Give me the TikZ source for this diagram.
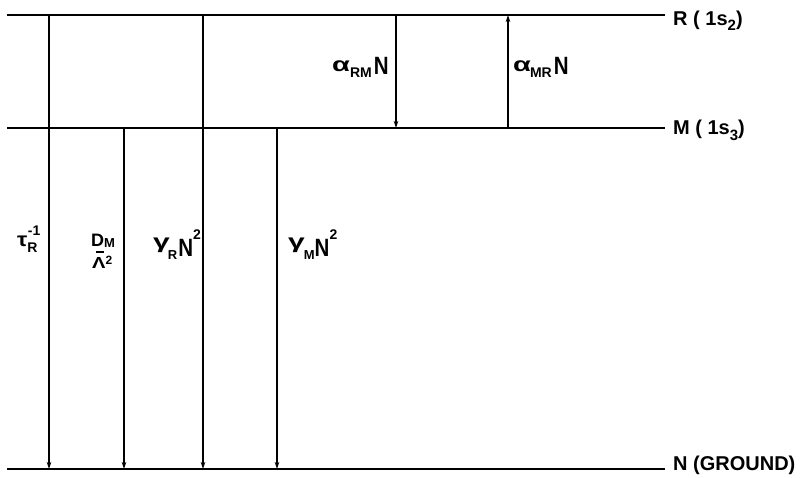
\documentclass[tikz,border=0pt]{standalone}
\usepackage{graphicx}
\usepackage{fontspec}
\setmainfont{Liberation Sans}
\newfontfamily\lett{Liberation Sans}[FakeStretch=0.82]
\usetikzlibrary{arrows.meta}
\newcommand{\fs}[1]{\fontsize{#1}{#1}\selectfont}
% greek letter: raise, xscale, size, glyph
\newcommand{\gk}[4]{\raisebox{#1pt}{\scalebox{#2}[1]{\rmfamily\bfseries\fs{#3}#4}}}
% lowered / raised small text: shift, size, text
\newcommand{\dn}[3]{\raisebox{-#1pt}{\rmfamily\bfseries\fs{#2}#3}}
\newcommand{\up}[3]{\raisebox{#1pt}{\rmfamily\bfseries\fs{#2}#3}}
\tikzset{
  level/.style={line width=1.8pt},
  trans/.style={line width=1.2pt,-{Stealth[length=7pt,width=4.5pt]}},
  lab/.style={font=\lett\bfseries\fs{25}, inner sep=0pt, anchor=base west},
  lvl/.style={font=\bfseries\fs{20}, inner sep=0pt, anchor=base west},
}
\begin{document}
\begin{tikzpicture}[x=1pt,y=-1pt]
\useasboundingbox (0,0) rectangle (807,478);
% levels
\coordinate (R0) at (7,15);   \coordinate (R1) at (665,15);
\coordinate (M0) at (7,128);  \coordinate (M1) at (665,128);
\coordinate (N0) at (7,469);  \coordinate (N1) at (665,469);
\draw[level] (R0) -- (R1);
\draw[level] (M0) -- (M1);
\draw[level] (N0) -- (N1);
\node[lvl] (Rl) at (673,26) {R ( 1s\dn{5}{15}{2})};
\node[lvl] (Ml) at (673,135) {M ( 1s\dn{6}{15}{3})};
\node[lvl] (Nl) at (673,471) {N (GROUND)};
% transition endpoints
\coordinate (a1) at (49,15);  \coordinate (b1) at (49,469);
\coordinate (a2) at (124,128); \coordinate (b2) at (124,469);
\coordinate (a3) at (203,15); \coordinate (b3) at (203,469);
\coordinate (a4) at (277,128); \coordinate (b4) at (277,469);
\coordinate (a5) at (396,15); \coordinate (b5) at (396,128);
\coordinate (a6) at (508,128); \coordinate (b6) at (508,15);
\draw[trans] (a1) -- (b1);
\draw[trans] (a2) -- (b2);
\draw[trans] (a3) -- (b3);
\draw[trans] (a4) -- (b4);
\draw[trans] (a5) -- (b5);
\draw[trans] (a6) -- (b6);
% labels
\node[lab] (t1) at (17,247) {\gk{0}{1.15}{20}{τ}\makebox[0pt][l]{\hspace{0.5pt}\up{11}{14}{-1}}\dn{6}{14}{R}};
\node[lab] (t2a) at (91,247) {{\rmfamily\bfseries\fs{18}D}\dn{1}{13}{M}};
\node[lab,anchor=center] (t2b) at (100,252) {\rule{8pt}{2pt}};
\node[lab] (t2c) at (92,269) {\gk{0}{1.25}{16}{Λ}\up{4}{12}{2}};
\node[lab] (t3) at (153,257) {\gk{8}{1.5}{20}{γ}\kern-2pt\dn{3}{13}{R}\kern1pt N\up{17}{14}{2}};
\node[lab] (t4) at (288,257) {\gk{8}{1.5}{20}{γ}\kern-1pt\dn{3}{13}{M}N\up{17}{14}{2}};
\node[lab] (t5) at (332,75) {\gk{3}{1.45}{20}{α}\dn{3}{14}{RM}\kern2pt N};
\node[lab] (t6) at (513,75) {\gk{3}{1.45}{20}{α}\kern-1pt\dn{3}{14}{MR}\kern2pt N};
\end{tikzpicture}
\end{document}
